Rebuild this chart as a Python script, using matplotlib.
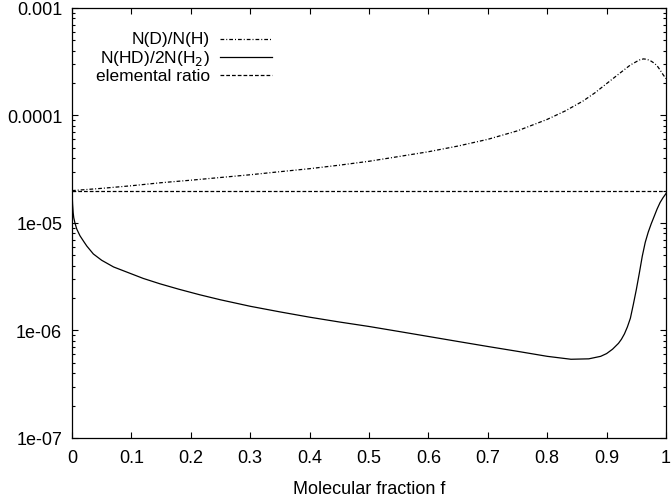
import matplotlib
matplotlib.use("Agg")
import matplotlib.pyplot as plt
from matplotlib.ticker import FixedLocator, LogLocator, NullFormatter

plt.rcParams['font.family'] = ['Liberation Sans', 'DejaVu Sans']

# N(D)/N(H)
f_dh = [0.0, 0.05, 0.1, 0.15, 0.2, 0.25, 0.3, 0.35, 0.4, 0.45, 0.5, 0.55, 0.6,
        0.65, 0.7, 0.75, 0.8, 0.83, 0.86, 0.88, 0.9, 0.92, 0.94, 0.955,
        0.962, 0.968, 0.975, 0.98, 0.985, 0.99, 0.995, 1.0]
dh = [2.0e-5, 2.1e-5, 2.22e-5, 2.37e-5, 2.5e-5, 2.65e-5, 2.81e-5, 3.0e-5,
      3.2e-5, 3.45e-5, 3.75e-5, 4.15e-5, 4.6e-5, 5.2e-5, 6.0e-5, 7.2e-5,
      9.2e-5, 1.1e-4, 1.36e-4, 1.62e-4, 1.98e-4, 2.42e-4, 2.95e-4, 3.28e-4,
      3.36e-4, 3.33e-4, 3.2e-4, 3.07e-4, 2.9e-4, 2.65e-4, 2.4e-4, 2.2e-4]

# N(HD)/2N(H2)
f_hd = [0.0, 0.001, 0.002, 0.003, 0.005, 0.008, 0.0135, 0.02, 0.025, 0.036,
        0.05, 0.07, 0.092, 0.12, 0.148, 0.18, 0.215, 0.25, 0.3, 0.35, 0.4,
        0.45, 0.5, 0.55, 0.6, 0.65, 0.7, 0.75, 0.8, 0.84, 0.87, 0.89, 0.9,
        0.91, 0.92, 0.925, 0.93, 0.935, 0.94, 0.945, 0.95, 0.955, 0.96,
        0.965, 0.97, 0.975, 0.98, 0.985, 0.99, 0.995, 1.0]
hd = [2.0e-5, 1.5e-5, 1.25e-5, 1.12e-5, 1.0e-5, 8.8e-6, 7.6e-6, 6.7e-6,
      6.1e-6, 5.15e-6, 4.5e-6, 3.9e-6, 3.5e-6, 3.05e-6, 2.72e-6, 2.42e-6,
      2.15e-6, 1.93e-6, 1.68e-6, 1.49e-6, 1.33e-6, 1.2e-6, 1.09e-6, 9.8e-7,
      8.8e-7, 7.9e-7, 7.1e-7, 6.4e-7, 5.75e-7, 5.4e-7, 5.45e-7, 5.75e-7,
      6.1e-7, 6.7e-7, 7.6e-7, 8.3e-7, 9.3e-7, 1.08e-6, 1.3e-6, 1.75e-6,
      2.4e-6, 3.4e-6, 4.9e-6, 6.6e-6, 8.2e-6, 9.8e-6, 1.15e-5, 1.35e-5,
      1.55e-5, 1.72e-5, 1.88e-5]

elemental = 2.0e-5

xticks = [0, 0.1, 0.2, 0.3, 0.4, 0.5, 0.6, 0.7, 0.8, 0.9, 1]
xticklabels = ["0", "0.1", "0.2", "0.3", "0.4", "0.5", "0.6", "0.7", "0.8", "0.9", "1"]
yticks = [1e-7, 1e-6, 1e-5, 1e-4, 1e-3]
yticklabels = ["1e-07", "1e-06", "1e-05", "0.0001", "0.001"]

labels = ["N(D)/N(H)", "N(HD)/2N(H$_2$)", "elemental ratio"]

fig = plt.figure(figsize=(6.72, 5.02), dpi=100)
ax = fig.add_axes([0.1071, 0.1255, 0.884, 0.8566])

dashdot = (0, (3, 1.6, 0.8, 1.6))
dashed = (0, (3, 1.6))

ax.plot(f_dh, dh, color='black', lw=0.9, linestyle=dashdot)
ax.plot(f_hd, hd, color='black', lw=0.9, linestyle='-')
ax.axhline(elemental, color='black', lw=0.9, linestyle=dashed)

ax.set_yscale('log')
ax.set_xlim(0, 1)
ax.set_ylim(1e-7, 1e-3)
ax.xaxis.set_major_locator(FixedLocator(xticks))
ax.set_xticklabels(xticklabels)
ax.yaxis.set_major_locator(FixedLocator(yticks))
ax.set_yticklabels(yticklabels)
ax.yaxis.set_minor_locator(LogLocator(base=10, subs=range(2, 10)))
ax.yaxis.set_minor_formatter(NullFormatter())

ax.tick_params(which='both', direction='in', top=True, right=True,
               labelsize=13, width=0.8)
ax.tick_params(which='major', length=4.5)
ax.tick_params(axis='x', which='major', pad=8)
ax.tick_params(axis='y', which='major', pad=7)
ax.tick_params(which='minor', length=2.5)
for s in ax.spines.values():
    s.set_linewidth(0.9)

ax.set_xlabel("Molecular fraction f", fontsize=13, labelpad=10)

# gnuplot-like key: right aligned text, sample line on the right
styles = [dashdot, '-', dashed]
rows = [0.928, 0.886, 0.843]
for lab, st, yy in zip(labels, styles, rows):
    ax.text(0.232, yy, lab, transform=ax.transAxes, ha='right', va='center',
            fontsize=12.5)
    ax.plot([0.249, 0.337], [yy, yy], transform=ax.transAxes, color='black',
            lw=0.9, linestyle=st)

fig.savefig("out.png", dpi=100)
